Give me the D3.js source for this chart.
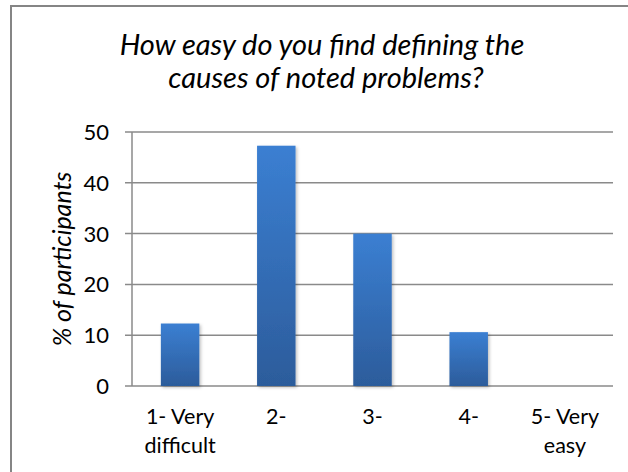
<!DOCTYPE html>
<html><head><meta charset="utf-8">
<script src="https://cdn.jsdelivr.net/npm/d3@7"></script>
<style>body{margin:0;background:#fff}svg{display:block}text{font-family:Lato,"Open Sans",sans-serif;fill:#000}</style>
</head><body><svg id="c" width="628" height="472"></svg>
<script>
const categories = [["1- Very","difficult"],["2-"],["3-"],["4-"],["5- Very","easy"]];
const values = [12.3, 47.3, 30.0, 10.6, 0];
const yTicks = [0,10,20,30,40,50];
const titleLines = ["How easy do you find defining the","causes of noted problems?"];
const yTitle = "% of participants";

const svg = d3.select("#c");
const defs = svg.append("defs");
const grad = defs.append("linearGradient").attr("id","g").attr("x1",0).attr("y1",0).attr("x2",0).attr("y2",1);
grad.append("stop").attr("offset","0%").attr("stop-color","#3b7fd2");
grad.append("stop").attr("offset","100%").attr("stop-color","#2c5c9b");
const f = defs.append("filter").attr("id","sh").attr("x","-30%").attr("y","-30%").attr("width","160%").attr("height","160%");
f.append("feDropShadow").attr("dx",1.5).attr("dy",1.5).attr("stdDeviation",1.5).attr("flood-color","#000").attr("flood-opacity",0.25);

svg.append("rect").attr("x",11).attr("y",6).attr("width",640).attr("height",500)
  .attr("fill","none").attr("stroke","#858585").attr("stroke-width",2);

const L=132,R=613,T=132,B=386;
const x = d3.scaleBand().domain(d3.range(values.length)).range([L,R]).paddingInner(0.6).paddingOuter(0.3);
const y = d3.scaleLinear().domain([0,50]).range([B,T]);

// gridlines
svg.append("g").selectAll("line").data(yTicks).join("line")
  .attr("x1",L-7).attr("x2",R).attr("y1",d=>y(d)).attr("y2",d=>y(d))
  .attr("stroke","#8a8a8a").attr("stroke-width",1.5);
svg.append("line").attr("x1",L).attr("x2",L).attr("y1",T).attr("y2",B).attr("stroke","#8a8a8a").attr("stroke-width",1.5);

// bars
svg.append("g").selectAll("rect").data(values).join("rect")
  .attr("x",(d,i)=>x(i)).attr("width",x.bandwidth())
  .attr("y",d=>y(d)).attr("height",d=>B-y(d))
  .attr("fill","url(#g)").attr("filter","url(#sh)")
  .style("display",d=>d>0?null:"none");

// y tick labels
svg.append("g").selectAll("text").data(yTicks).join("text")
  .attr("x",109).attr("y",d=>y(d)).attr("dy","0.36em").attr("text-anchor","end")
  .style("font-size","22px").text(d=>d);

// x labels
const xl = svg.append("g").selectAll("text").data(categories).join("text")
  .attr("text-anchor","middle").style("font-size","21.5px")
  .attr("transform",(d,i)=>`translate(${x(i)+x.bandwidth()/2},0)`);
xl.selectAll("tspan").data(d=>d).join("tspan").attr("x",0).attr("y",(d,j)=>424+j*29).text(d=>d);

// y title
svg.append("text").attr("transform","translate(71,259) rotate(-90)").attr("text-anchor","middle")
  .style("font-size","25px").style("font-style","italic").text(yTitle);

// title
svg.append("g").selectAll("text").data(titleLines).join("text")
  .attr("x",(d,i)=>322+i*4).attr("y",(d,i)=>55+i*33).attr("text-anchor","middle")
  .style("font-size","29px").style("font-style","italic").text(d=>d);
</script></body></html>
